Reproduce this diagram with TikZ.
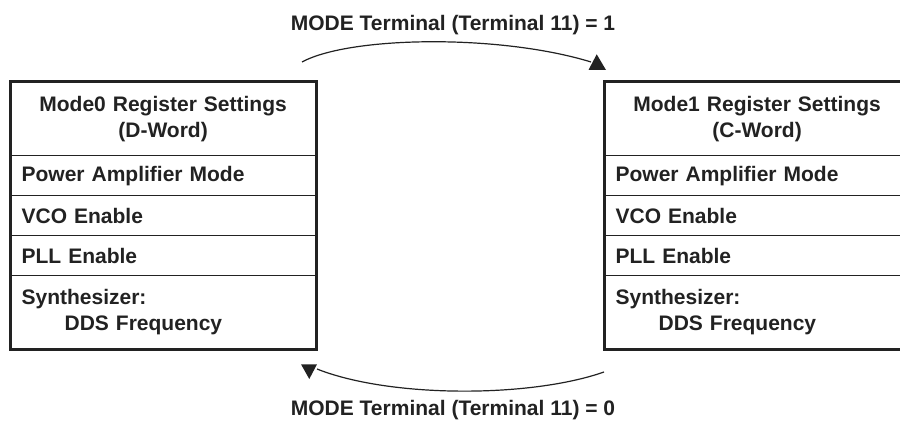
\documentclass[tikz,border=0pt]{standalone}
\usepackage{fontspec}
\setmainfont{Liberation Sans}
\definecolor{ink}{HTML}{222222}
\begin{document}
\begin{tikzpicture}[x=1pt,y=-1pt,
  lbl/.style={font=\fontsize{21}{26}\selectfont\bfseries, text=ink, inner sep=0pt},
  rowbox/.style={draw=ink, line width=1.2pt, anchor=north west, minimum width=305pt,
     text width=283pt, inner xsep=11pt, inner ysep=0pt, align=left,
     font=\fontsize{21}{26}\selectfont\bfseries, text=ink},
  titlebox/.style={rowbox, align=center, minimum height=73pt},
  itembox/.style={rowbox, minimum height=40pt},
  tallbox/.style={rowbox, minimum height=73pt},
  outerline/.style={draw=ink, line width=3pt},
  arc/.style={draw=ink, line width=1.2pt},
  tipfill/.style={fill=ink}]
\useasboundingbox (0,0) rectangle (900,422);
\fill[white] (0,0) rectangle (900,422);

% Left box
\node[titlebox] (t0) at (10,82) {Mode0 Register Settings\\(D-Word)};
\node[itembox] (p0) at (10,155) {Power Amplifier Mode};
\node[itembox] (v0) at (10,195) {VCO Enable};
\node[itembox] (l0) at (10,235) {PLL Enable};
\node[tallbox] (s0) at (10,275) {Synthesizer:\\\hspace*{43pt}DDS Frequency};
\draw[outerline] (t0.north west) rectangle (s0.south east);

% Right box
\node[titlebox] (t1) at (604,82) {Mode1 Register Settings\\(C-Word)};
\node[itembox] (p1) at (604,155) {Power Amplifier Mode};
\node[itembox] (v1) at (604,195) {VCO Enable};
\node[itembox] (l1) at (604,235) {PLL Enable};
\node[tallbox] (s1) at (604,275) {Synthesizer:\\\hspace*{43pt}DDS Frequency};
\draw[outerline] (t1.north west) rectangle (s1.south east);

% Labels
\node[lbl] (top) at (453,25) {MODE Terminal (Terminal 11) = 1};
\node[lbl] (bot) at (453,410) {MODE Terminal (Terminal 11) = 0};

% Top arc
\coordinate (ta) at (302,62);
\coordinate (tb) at (591,62);
\draw[arc] (ta) .. controls (350,36) and (500,34) .. (tb);
\fill[tipfill] (596.7,54.3) -- (606,70) -- (588.5,70) -- cycle;

% Bottom arc
\coordinate (ba) at (604,372);
\coordinate (bb) at (317,369);
\draw[arc] (ba) .. controls (530,398) and (390,398) .. (bb);
\fill[tipfill] (301,364.3) -- (317,364.3) -- (309.3,379) -- cycle;
\end{tikzpicture}
\end{document}
